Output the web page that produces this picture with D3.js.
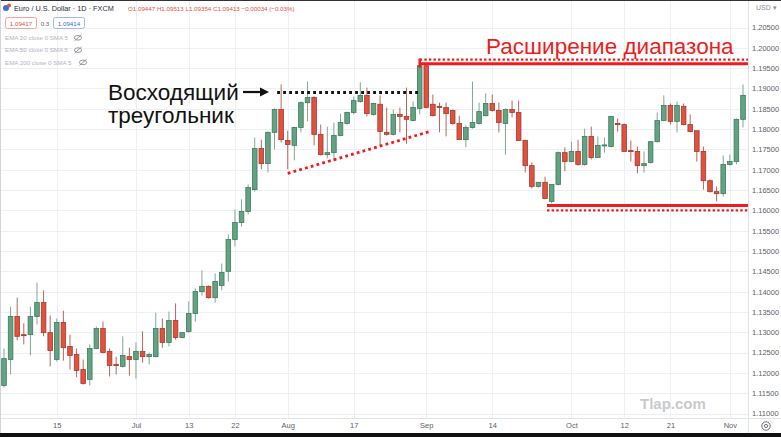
<!DOCTYPE html>
<html>
<head>
<meta charset="utf-8">
<script src="https://cdn.jsdelivr.net/npm/d3@7"></script>
<style>
body{margin:0;background:#fff;}
svg{display:block;font-family:"Liberation Sans",Arial,sans-serif;}
</style>
</head>
<body>
<div id="chart"></div>
<script>
// EUR/USD daily candles
var opens = [1.1169,1.1233,1.1339,1.1294,1.1294,1.1339,1.1373,1.1299,1.1233,1.1324,
  1.1265,1.1245,1.1208,1.1184,1.1260,1.1309,1.1253,1.1221,1.1216,1.1240,
  1.1233,1.1253,1.1240,1.1240,1.1309,1.1275,1.1329,1.1287,1.1302,1.1346,
  1.1400,1.1413,1.1385,1.1415,1.1450,1.1528,1.1570,1.1597,1.1651,1.1752,
  1.1715,1.1792,1.1848,1.1772,1.1760,1.1804,1.1865,1.1878,1.1787,1.1737,
  1.1742,1.1784,1.1814,1.1841,1.1868,1.1883,1.1836,1.1861,1.1792,1.1787,
  1.1836,1.1831,1.1821,1.1851,1.1956,1.1861,1.1856,1.1853,1.1846,1.1814,
  1.1774,1.1804,1.1814,1.1833,1.1863,1.1846,1.1814,1.1848,1.1841,1.1772,
  1.1710,1.1659,1.1669,1.1622,1.1664,1.1742,1.1720,1.1745,1.1713,1.1782,
  1.1730,1.1760,1.1757,1.1814,1.1811,1.1747,1.1745,1.1710,1.1718,1.1769,
  1.1821,1.1858,1.1819,1.1856,1.1811,1.1796,1.1745,1.1673,1.1646,1.1641,
  1.1713,1.1720,1.1824];
var highs = [1.1260,1.1363,1.1385,1.1322,1.1363,1.1422,1.1403,1.1341,1.1334,1.1353,
  1.1294,1.1260,1.1233,1.1270,1.1314,1.1326,1.1260,1.1240,1.1290,1.1262,
  1.1275,1.1302,1.1250,1.1348,1.1334,1.1351,1.1371,1.1299,1.1376,1.1408,
  1.1452,1.1415,1.1445,1.1469,1.1541,1.1602,1.1627,1.1664,1.1779,1.1774,
  1.1794,1.1851,1.1910,1.1796,1.1806,1.1868,1.1917,1.1880,1.1811,1.1806,
  1.1816,1.1838,1.1843,1.1880,1.1915,1.1902,1.1865,1.1883,1.1853,1.1848,
  1.1853,1.1902,1.1868,1.1959,1.1961,1.1885,1.1865,1.1865,1.1848,1.1833,
  1.1809,1.1917,1.1865,1.1888,1.1885,1.1865,1.1851,1.1870,1.1870,1.1774,
  1.1718,1.1669,1.1683,1.1664,1.1745,1.1755,1.1769,1.1774,1.1801,1.1806,
  1.1782,1.1779,1.1833,1.1826,1.1814,1.1772,1.1757,1.1745,1.1769,1.1841,
  1.1883,1.1863,1.1868,1.1863,1.1836,1.1796,1.1757,1.1676,1.1659,1.1735,
  1.1737,1.1826,1.1910];
var lows = [1.1164,1.1196,1.1280,1.1270,1.1243,1.1319,1.1290,1.1216,1.1228,1.1230,
  1.1208,1.1189,1.1171,1.1169,1.1258,1.1248,1.1191,1.1196,1.1213,1.1193,
  1.1186,1.1225,1.1221,1.1238,1.1262,1.1265,1.1282,1.1285,1.1299,1.1326,
  1.1390,1.1383,1.1373,1.1403,1.1425,1.1511,1.1560,1.1590,1.1646,1.1701,
  1.1693,1.1750,1.1767,1.1701,1.1723,1.1792,1.1819,1.1760,1.1735,1.1728,
  1.1720,1.1782,1.1811,1.1836,1.1865,1.1831,1.1833,1.1760,1.1784,1.1784,
  1.1792,1.1764,1.1819,1.1836,1.1851,1.1831,1.1792,1.1782,1.1811,1.1774,
  1.1755,1.1801,1.1811,1.1831,1.1843,1.1792,1.1737,1.1829,1.1772,1.1693,
  1.1654,1.1656,1.1627,1.1617,1.1661,1.1696,1.1718,1.1710,1.1710,1.1725,
  1.1728,1.1742,1.1755,1.1794,1.1745,1.1720,1.1691,1.1693,1.1715,1.1767,
  1.1819,1.1811,1.1792,1.1809,1.1792,1.1720,1.1651,1.1644,1.1622,1.1634,
  1.1710,1.1713,1.1804];
var closes = [1.1235,1.1339,1.1290,1.1292,1.1339,1.1373,1.1299,1.1255,1.1324,1.1262,
  1.1243,1.1206,1.1174,1.1260,1.1309,1.1250,1.1218,1.1218,1.1243,1.1233,
  1.1253,1.1240,1.1245,1.1309,1.1275,1.1329,1.1287,1.1299,1.1346,1.1400,
  1.1413,1.1385,1.1425,1.1447,1.1528,1.1570,1.1597,1.1656,1.1752,1.1715,
  1.1792,1.1848,1.1774,1.1762,1.1804,1.1865,1.1878,1.1787,1.1737,1.1742,
  1.1784,1.1816,1.1841,1.1870,1.1883,1.1838,1.1863,1.1794,1.1787,1.1836,
  1.1831,1.1824,1.1853,1.1956,1.1853,1.1833,1.1853,1.1838,1.1814,1.1774,
  1.1804,1.1816,1.1843,1.1863,1.1846,1.1816,1.1848,1.1841,1.1772,1.1710,
  1.1659,1.1669,1.1629,1.1664,1.1742,1.1720,1.1745,1.1713,1.1782,1.1730,
  1.1760,1.1761,1.1831,1.1811,1.1745,1.1745,1.1710,1.1715,1.1769,1.1821,
  1.1858,1.1819,1.1858,1.1811,1.1794,1.1745,1.1673,1.1646,1.1641,1.1713,
  1.1720,1.1824,1.1883];

var tickIndex = [8, 20, 28, 35, 43, 53, 64, 74, 86, 94, 101, 110];
var tickLabels = ["15", "Jul", "13", "22", "Aug", "17", "Sep", "14", "Oct", "12", "21", "Nov"];
var priceTicks = [1.205, 1.20, 1.195, 1.19, 1.185, 1.18, 1.175, 1.17, 1.165, 1.16,
  1.155, 1.15, 1.145, 1.14, 1.135, 1.13, 1.125, 1.12, 1.115, 1.11];

// drawn-on annotation levels (price, bar index)
var resistance = {solid: 1.1961, dotted: 1.1971, from: 63};
var support = {solid: 1.1612, dotted: 1.1600, from: 82.3};
var triangleTop = {price: 1.1890, from: 41.4, to: 63};
var triangleBottom = {from: [43, 1.1691], to: [64.5, 1.1794]};

var W = 781, H = 437, plotRight = 748, plotBottom = 418;

var svg = d3.select("#chart").append("svg")
    .attr("width", W)
    .attr("height", H);

svg.append("rect").attr("width", W).attr("height", H).attr("fill", "#fff");

var xScale = d3.scaleLinear().domain([0, opens.length - 1]).range([4, 743]),
    yScale = d3.scaleLinear().domain([1.11, 1.205]).range([413.5, 27.5]);

// grid
svg.append("g").selectAll("line.h")
    .data(priceTicks).enter().append("line")
    .attr("x1", 0).attr("x2", plotRight)
    .attr("y1", function(d){ return Math.round(yScale(d)) + 0.5; })
    .attr("y2", function(d){ return Math.round(yScale(d)) + 0.5; })
    .attr("stroke", "#eef0f3");
svg.append("g").selectAll("line.v")
    .data(tickIndex).enter().append("line")
    .attr("y1", 0).attr("y2", plotBottom)
    .attr("x1", function(d){ return Math.round(xScale(d)) + 0.5; })
    .attr("x2", function(d){ return Math.round(xScale(d)) + 0.5; })
    .attr("stroke", "#eef0f3");

// candles
var idx = d3.range(opens.length);
var up = function(i){ return closes[i] >= opens[i]; };
var bw = 4.6;

var candles = svg.append("g");
candles.selectAll(".wick")
    .data(idx).enter().append("line")
    .attr("class", "wick")
    .attr("x1", function(i){ return xScale(i); })
    .attr("x2", function(i){ return xScale(i); })
    .attr("y1", function(i){ return yScale(highs[i]); })
    .attr("y2", function(i){ return yScale(lows[i]); })
    .attr("stroke", function(i){ return up(i) ? "#7fa893" : "#b8665c"; })
    .attr("stroke-width", 1);

candles.selectAll(".body")
    .data(idx).enter().append("rect")
    .attr("class", "body")
    .attr("x", function(i){ return xScale(i) - bw / 2; })
    .attr("y", function(i){ return yScale(Math.max(opens[i], closes[i])); })
    .attr("width", bw)
    .attr("height", function(i){
        return Math.max(1, Math.abs(yScale(opens[i]) - yScale(closes[i])));
    })
    .attr("fill", function(i){ return up(i) ? "#63a282" : "#e0513f"; })
    .attr("stroke", function(i){ return up(i) ? "#3d7a5b" : "#a63a2d"; })
    .attr("stroke-width", 0.8);

// axis separators
svg.append("line").attr("x1", plotRight + 0.5).attr("x2", plotRight + 0.5)
    .attr("y1", 0).attr("y2", 433).attr("stroke", "#e0e3eb");
svg.append("line").attr("x1", 0).attr("x2", W)
    .attr("y1", plotBottom + 0.5).attr("y2", plotBottom + 0.5).attr("stroke", "#e0e3eb");

// price axis
var yAxis = svg.append("g")
    .attr("transform", "translate(" + (plotRight + 4) + ",0)")
    .call(d3.axisRight(yScale).tickValues(priceTicks).tickFormat(d3.format(".5f")).tickSize(0).tickPadding(0));
yAxis.select(".domain").remove();
yAxis.selectAll("text").attr("font-size", 7.5).attr("fill", "#5d606b")
    .attr("font-family", "Liberation Sans, Arial, sans-serif");

// time axis
var xAxis = svg.append("g")
    .attr("transform", "translate(0," + plotBottom + ")")
    .call(d3.axisBottom(xScale).tickValues(tickIndex)
        .tickFormat(function(d, i){ return tickLabels[i]; }).tickSize(0).tickPadding(5));
xAxis.select(".domain").remove();
xAxis.selectAll("text").attr("font-size", 7.5).attr("fill", "#5d606b")
    .attr("font-family", "Liberation Sans, Arial, sans-serif");

svg.append("text").attr("x", 756).attr("y", 10).attr("font-size", 7).attr("fill", "#8a8d96").text("USD ▾");
// gear
var gear = svg.append("g").attr("transform", "translate(766,426)");
gear.append("circle").attr("r", 4.2).attr("fill", "none").attr("stroke", "#6a6d78").attr("stroke-width", 1);
gear.append("circle").attr("r", 1.6).attr("fill", "none").attr("stroke", "#6a6d78").attr("stroke-width", 1);

svg.append("rect").attr("x", 0).attr("y", 433).attr("width", W).attr("height", 4).attr("fill", "#111");
svg.append("rect").attr("x", 0).attr("y", 0).attr("width", W).attr("height", 1).attr("fill", "#333");
svg.append("line").attr("x1", 0.5).attr("x2", 0.5).attr("y1", 0).attr("y2", 433).attr("stroke", "#cfd6de");

// header
var head = svg.append("g").attr("font-size", 7.3);
head.append("circle").attr("cx", 6).attr("cy", 8).attr("r", 3).attr("fill", "#3b6fd1");
head.append("circle").attr("cx", 9).attr("cy", 5.5).attr("r", 2).attr("fill", "#e0513f");
head.append("text").attr("x", 14).attr("y", 11).attr("fill", "#2a2e39").text("Euro / U.S. Dollar · 1D · FXCM");
head.append("text").attr("x", 128).attr("y", 11).attr("fill", "#e0513f").attr("font-size", 6.2)
    .text("O1.09447  H1.09513  L1.09354  C1.09413  −0.00034 (−0.03%)");
head.append("rect").attr("x", 5.5).attr("y", 17.5).attr("width", 31).attr("height", 11).attr("rx", 2)
    .attr("fill", "#fff").attr("stroke", "#f0a3a0");
head.append("text").attr("x", 21).attr("y", 25.5).attr("text-anchor", "middle").attr("fill", "#e0513f")
    .attr("font-size", 6.2).text("1.09417");
head.append("text").attr("x", 45).attr("y", 25.5).attr("text-anchor", "middle").attr("fill", "#5d606b")
    .attr("font-size", 6.2).text("0.3");
head.append("rect").attr("x", 53.5).attr("y", 17.5).attr("width", 31).attr("height", 11).attr("rx", 2)
    .attr("fill", "#fff").attr("stroke", "#a3b8f0");
head.append("text").attr("x", 69).attr("y", 25.5).attr("text-anchor", "middle").attr("fill", "#3b6fd1")
    .attr("font-size", 6.2).text("1.09414");
var emaRows = ["EMA 20 close 0 SMA 5", "EMA 50 close 0 SMA 5", "EMA 200 close 0 SMA 5"];
emaRows.forEach(function(t, k){
    var yy = 40 + k * 12.3;
    var tx = head.append("text").attr("x", 5).attr("y", yy).attr("fill", "#b2b5be").attr("font-size", 6.2).text(t);
    var ex = (k == 2 ? 83 : 78);
    head.append("ellipse").attr("cx", ex).attr("cy", yy - 2.2).attr("rx", 3.6).attr("ry", 2.3)
        .attr("fill", "none").attr("stroke", "#8a8d96").attr("stroke-width", 0.9);
    head.append("line").attr("x1", ex - 3.5).attr("x2", ex + 3.5).attr("y1", yy + 0.8).attr("y2", yy - 5.2)
        .attr("stroke", "#8a8d96").attr("stroke-width", 0.9);
});

// watermark
svg.append("text").attr("x", 640).attr("y", 409).attr("font-size", 15).attr("font-weight", "bold")
    .attr("fill", "#c9cacc").text("Tlap.com");

// annotations
var ann = svg.append("g");
ann.append("line")
    .attr("x1", xScale(resistance.from)).attr("x2", plotRight)
    .attr("y1", yScale(resistance.solid)).attr("y2", yScale(resistance.solid))
    .attr("stroke", "#ee1c1c").attr("stroke-width", 3);
ann.append("line")
    .attr("x1", xScale(resistance.from)).attr("x2", plotRight)
    .attr("y1", yScale(resistance.dotted)).attr("y2", yScale(resistance.dotted))
    .attr("stroke", "#ee1c1c").attr("stroke-width", 2.4).attr("stroke-dasharray", "2.4,2.2");
ann.append("line")
    .attr("x1", xScale(resistance.from)).attr("x2", xScale(resistance.from))
    .attr("y1", yScale(resistance.dotted) - 1).attr("y2", yScale(resistance.solid) + 4)
    .attr("stroke", "#ee1c1c").attr("stroke-width", 2.5);

ann.append("line")
    .attr("x1", xScale(support.from)).attr("x2", plotRight)
    .attr("y1", yScale(support.solid)).attr("y2", yScale(support.solid))
    .attr("stroke", "#ee1c1c").attr("stroke-width", 3);
ann.append("line")
    .attr("x1", xScale(support.from)).attr("x2", plotRight)
    .attr("y1", yScale(support.dotted)).attr("y2", yScale(support.dotted))
    .attr("stroke", "#ee1c1c").attr("stroke-width", 2.4).attr("stroke-dasharray", "2.4,2.2");

ann.append("line")
    .attr("x1", xScale(triangleTop.from)).attr("x2", xScale(triangleTop.to))
    .attr("y1", yScale(triangleTop.price)).attr("y2", yScale(triangleTop.price))
    .attr("stroke", "#111").attr("stroke-width", 2.8).attr("stroke-dasharray", "2.8,3.2");
ann.append("line")
    .attr("x1", xScale(triangleBottom.from[0])).attr("x2", xScale(triangleBottom.to[0]))
    .attr("y1", yScale(triangleBottom.from[1])).attr("y2", yScale(triangleBottom.to[1]))
    .attr("stroke", "#ee1c1c").attr("stroke-width", 2.8).attr("stroke-dasharray", "2.8,3.2");

// arrow
var ay = yScale(triangleTop.price) - 0.5;
ann.append("line").attr("x1", 243).attr("x2", 262).attr("y1", ay).attr("y2", ay)
    .attr("stroke", "#111").attr("stroke-width", 2.2);
ann.append("path").attr("d", "M260," + (ay - 4.5) + " L269," + ay + " L260," + (ay + 4.5) + " Z").attr("fill", "#111");

ann.append("text").attr("x", 108).attr("y", 100).attr("font-size", 22.5).attr("fill", "#111").text("Восходящий");
ann.append("text").attr("x", 108).attr("y", 123).attr("font-size", 22.5).attr("fill", "#111").text("треугольник");
ann.append("text").attr("x", 486).attr("y", 54).attr("font-size", 22.5).attr("fill", "#ee1c1c").text("Расширение диапазона");
</script>
</body>
</html>
